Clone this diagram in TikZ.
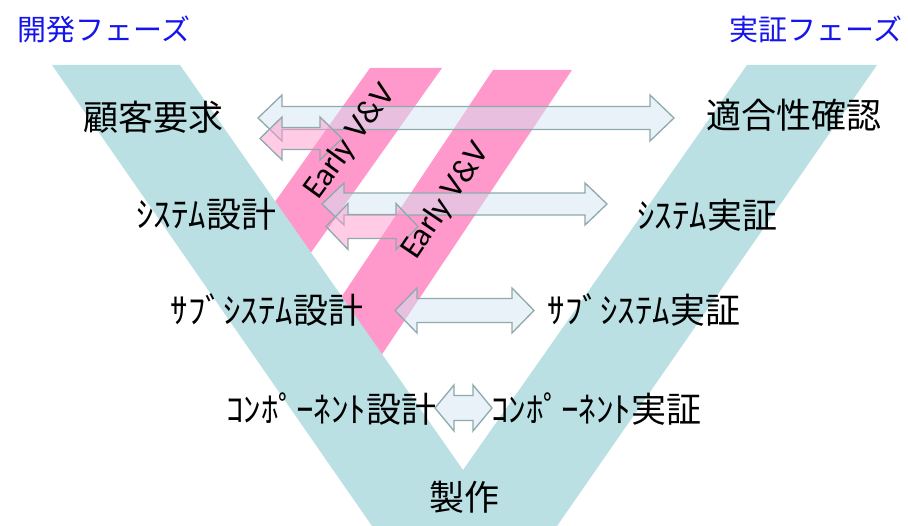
\documentclass[tikz,border=0pt]{standalone}
\usepackage{fontspec}
\setmainfont{Noto Sans CJK JP}
\newfontfamily\evvfont{Carlito}
\definecolor{vteal}{RGB}{186,224,228}
\definecolor{bandpink}{RGB}{255,153,204}
\definecolor{arrowblue}{RGB}{213,229,245}
\definecolor{arrowline}{RGB}{142,170,172}
\definecolor{phaseblue}{RGB}{20,20,235}
\newcommand\dblblock[7]{%
  \filldraw[#1] (#2,#4) -- ({#2+#7},{#4+#5}) -- ({#2+#7},{#4+#6}) -- ({#3-#7},{#4+#6})
    -- ({#3-#7},{#4+#5}) -- (#3,#4) -- ({#3-#7},{#4-#5}) -- ({#3-#7},{#4-#6})
    -- ({#2+#7},{#4-#6}) -- ({#2+#7},{#4-#5}) -- cycle;}
\begin{document}
\begin{tikzpicture}[x=1pt,y=1pt,
  lbl/.style={inner sep=0pt, text height=28pt, text depth=2.5pt, font=\fontsize{35}{40}\selectfont},
  phase/.style={inner sep=0pt, text height=23.2pt, text depth=2pt, text=phaseblue, font=\fontsize{29}{34}\selectfont},
  evv/.style={inner sep=0pt, font=\evvfont\fontsize{33}{38}\selectfont},
  barrow/.style={fill=arrowblue, fill opacity=0.5, draw=arrowline, line width=1.3pt},
  parrow/.style={fill=bandpink, fill opacity=0.5, draw=arrowline, line width=1.3pt}]
\useasboundingbox (0,0) rectangle (908,-526);
\fill[white] (0,0) rectangle (908,-526);
% pink Early V&V bands
\fill[bandpink] (370,-68) -- (442,-68) -- ({442-0.71*202},-270) -- ({370-0.71*202},-270) -- cycle;
\fill[bandpink] (493,-70) -- (572,-70) -- ({572-0.668*310},-380) -- ({493-0.668*310},-380) -- cycle;
% V shape
\fill[vteal] (52,-65) -- (180,-65) -- (463,-470) -- (747,-65) -- (877,-65) -- (557,-526) -- (372,-526) -- cycle;
% block arrows
\dblblock{barrow}{258}{674}{-118}{23}{11.5}{24}
\dblblock{parrow}{260}{342}{-138.5}{21.5}{11}{22}
\dblblock{barrow}{322}{607}{-204}{21}{11}{22}
\dblblock{parrow}{326}{418}{-226.5}{23}{12}{22}
\dblblock{barrow}{395}{534}{-310.5}{22.5}{12}{22}
\dblblock{barrow}{435}{492}{-408}{23}{12.5}{19}
% texts
\node[phase] (dev) at (104,-30) {開発フェーズ};
\node[phase] (ver) at (816,-30) {実証フェーズ};
\node[lbl] (req) at (153,-117.5) {顧客要求};
\node[lbl] (acc) at (793.5,-116) {適合性確認};
\node[lbl] (sysd) at (206,-215) {ｼｽﾃﾑ設計};
\node[lbl] (sysv) at (707,-216) {ｼｽﾃﾑ実証};
\node[lbl] (subd) at (267,-311) {ｻﾌﾞｼｽﾃﾑ設計};
\node[lbl] (subv) at (644,-311) {ｻﾌﾞｼｽﾃﾑ実証};
\node[lbl] (comd) at (331,-410) {ｺﾝﾎﾟｰﾈﾝﾄ設計};
\node[lbl] (comv) at (596,-410) {ｺﾝﾎﾟｰﾈﾝﾄ実証};
\node[lbl] (mfg) at (464,-498) {製作};
\node[evv, rotate=54] (evv1) at (350,-142) {Early V\&V};
\node[evv, rotate=56] (evv2) at (446,-201) {Early V\&V};
\end{tikzpicture}
\end{document}
